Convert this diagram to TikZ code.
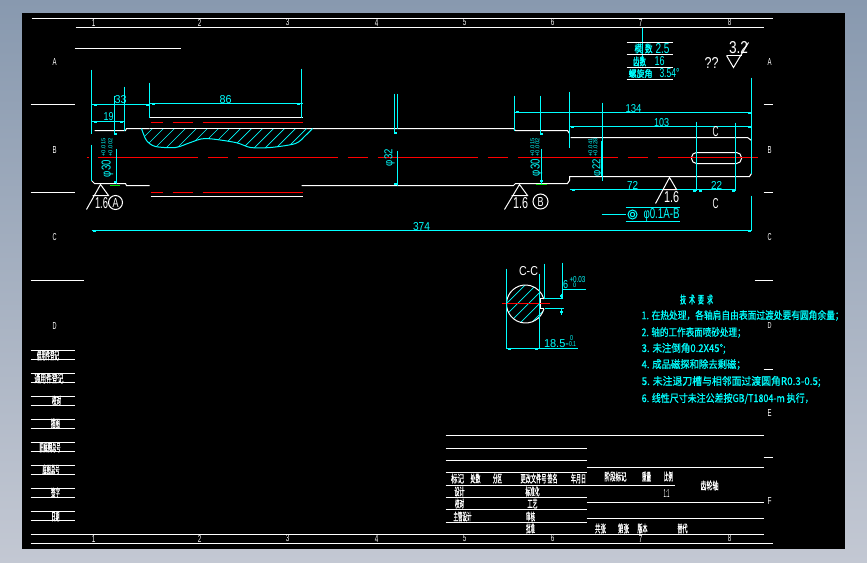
\documentclass[tikz,border=0pt]{standalone}
\usepackage{graphicx}
\usepackage{fontspec}
\setmainfont{Liberation Sans}
\newfontfamily\cjk[FakeBold=.7]{Noto Sans CJK SC}
\newfontfamily\cjkb[FakeBold=1.6]{Noto Sans CJK SC}
\newcommand{\fitbox}[3]{\resizebox{#1pt}{#2pt}{#3}}
\definecolor{cadcyan}{HTML}{00FFFF}
\definecolor{cadred}{HTML}{FF0000}
\definecolor{cadgreen}{HTML}{00E000}
\definecolor{deskup}{HTML}{8899AF}
\definecolor{deskdown}{HTML}{C3C8D3}
\tikzset{
  wline/.style={white,line width=1pt},
  dimline/.style={cadcyan,line width=1pt},
  redline/.style={cadred,line width=1pt},
  hatchline/.style={cadcyan,line width=.7pt},
  wtext/.style={white,inner sep=0pt},
  ctext/.style={cadcyan,inner sep=0pt}
}

\begin{document}
\begin{tikzpicture}[x=1pt,y=-1pt]
\useasboundingbox (0,0) rectangle (867,562);

\shade[top color=deskup,bottom color=deskdown] (0,0) rectangle (867,562);
\fill[black] (22,13) rectangle (845,549);

\begin{scope}[shift={(.5,.5)}]
% sheet frame
\draw[wline] (31,18) -- (772,18);
\draw[wline] (75,27) -- (763,27);
\draw[wline] (30,534) -- (763,534);
\draw[wline] (30,543) -- (772,543);
\draw[wline] (74,48) -- (180,48);
\draw[wline] (30,104) -- (74,104);
\draw[wline] (30,192) -- (74,192);
\draw[wline] (30,280) -- (83,280);
\foreach \y in {104,192,369,457}
  \draw[wline] (763,\y) -- (772,\y);
\draw[wline] (754,280) -- (772,280);
\foreach \y in {350,373,396,419,442,465,488,511}
  \draw[wline] (30,\y) -- (74,\y) (30,\y+9) -- (74,\y+9);

\foreach \x/\t in {93/1,199/2,287/3,376/4,464/5,552/6,640/7,729/8} {
  \node[wtext] at (\x,22) {\fitbox{3.5}{7}{\t}};
  \node[wtext] at (\x,538) {\fitbox{3.5}{7}{\t}};
}
\foreach \y/\t in {61/A,149/B,237/C} {
  \node[wtext] at (54,\y) {\fitbox{4}{7}{\t}};
  \node[wtext] at (769,\y) {\fitbox{4}{7}{\t}};
}
\node[wtext] at (54,325) {\fitbox{4}{7}{D}};
\node[wtext] at (769,325) {\fitbox{4}{6}{D}};
\node[wtext] at (769,412) {\fitbox{4}{7}{E}};
\node[wtext] at (769,500) {\fitbox{4}{7}{F}};

% shaft outline
\draw[wline] (94,130) -- (125,130) -- (126,128) -- (149,128);
\draw[wline] (302,128) -- (513,128) -- (515,130) -- (567,130) -- (569,133);
\draw[wline] (570,137) -- (747,137) -- (751,140);
\draw[wline] (91,180) -- (94,183) -- (125,183) -- (126,185) -- (149,185);
\draw[wline] (301,185) -- (513,185) -- (515,183) -- (567,183) -- (569,180) -- (569,176) -- (749,176) -- (751,173);
\draw[wline] (149,117) -- (302,117);
\draw[wline] (150,196) -- (302,196);
\draw[wline,rounded corners=5pt] (691,152) rectangle (741,163);

% centre lines
\draw[redline] (86,157) -- (88,157);
\foreach \a/\b in {97/197,207/227,237/337,347/367,377/477,487/507,517/617,627/647,657/757}
  \draw[redline] (\a,157) -- (\b,157);
\foreach \y in {122,192}
  \foreach \a/\b in {150/162,172/192,202/302}
    \draw[redline] (\a,\y) -- (\b,\y);

% broken-out hatch
\begin{scope}
\clip plot[smooth] coordinates {(141,128) (146,140) (155,146) (175,147) (190,142) (205,138) (235,142) (250,147) (270,147) (295,143) (305,135) (312,128)} -- cycle;
\foreach \k in {130,141,...,330}
  \draw[hatchline] (\k,150) -- (\k+24,126);
\end{scope}
\draw[dimline] plot[smooth] coordinates {(141,128) (146,140) (155,146) (175,147) (190,142) (205,138) (235,142) (250,147) (270,147) (295,143) (305,135) (312,128)};
\draw[wline] (149,128) -- (302,128);

% dimensions, left end
\draw[dimline] (91,69) -- (91,133);
\draw[dimline] (91,144) -- (91,180);
\draw[dimline] (124,86) -- (124,130);
\draw[dimline] (91,104) -- (149,104);
\draw[dimline] (114,95) -- (114,134);
\draw[dimline] (91,121) -- (124,121);
\draw[dimline] (116,148) -- (116,183);
\draw[dimline] (149,82) -- (149,117);
\draw[dimline] (301,68) -- (301,117);
\draw[dimline] (149,103) -- (302,103);
\draw[cadgreen,line width=1pt] (109,185) -- (119,185);
\node[ctext] at (120,99) {\fitbox{12}{8}{33}};
\node[ctext] at (108,116) {\fitbox{10}{8}{19}};
\node[ctext] at (225,99) {\fitbox{12}{8}{86}};
\node[ctext,rotate=90] at (107,168) {\fitbox{17}{9}{φ30}};
\node[ctext,rotate=90] at (103,147) {\fitbox{18}{4}{+0.015}};
\node[ctext,rotate=90] at (110,147) {\fitbox{18}{4}{+0.002}};

% dimensions, middle
\draw[dimline] (394,93) -- (394,133);
\draw[dimline] (397,93) -- (397,128);
\draw[dimline] (397,150) -- (397,185);
\node[ctext,rotate=90] at (389,157) {\fitbox{17}{8}{φ32}};
\draw[dimline] (514,95) -- (514,130);
\draw[dimline] (514,112) -- (751,112);
\draw[dimline] (540,95) -- (540,133);
\draw[dimline] (569,91) -- (569,147);
\draw[dimline] (569,126) -- (751,126);
\draw[dimline] (541,148) -- (541,183);
\draw[cadgreen,line width=1pt] (535,184) -- (546,184);
\node[ctext,rotate=90] at (536,167) {\fitbox{17}{9}{φ30}};
\node[ctext,rotate=90] at (532,147) {\fitbox{18}{4}{+0.015}};
\node[ctext,rotate=90] at (537,147) {\fitbox{18}{4}{+0.002}};
\node[ctext] at (633,108) {\fitbox{16}{8}{134}};
\node[ctext] at (661,122) {\fitbox{15}{8}{103}};

% dimensions, right end
\draw[dimline] (751,77) -- (751,173);
\draw[dimline] (602,102) -- (602,180);
\draw[dimline] (601,140) -- (601,175);
\node[ctext,rotate=90] at (597,167) {\fitbox{17}{8}{φ22}};
\node[ctext,rotate=90] at (590,147) {\fitbox{18}{4}{+0.041}};
\node[ctext,rotate=90] at (595,147) {\fitbox{18}{4}{+0.028}};
\draw[dimline] (569,189) -- (735,189);
\draw[dimline] (696,121) -- (696,190);
\draw[dimline] (735,122) -- (735,190);
\node[ctext] at (632,185) {\fitbox{11}{8}{72}};
\node[ctext] at (716,185) {\fitbox{11}{8}{22}};
\draw[dimline] (751,195) -- (751,230);
\draw[dimline] (91,230) -- (751,230);
\node[ctext] at (421,226) {\fitbox{17}{8}{374}};
\node[wtext] at (715,131) {\fitbox{6}{10}{C}};
\node[wtext] at (715,203) {\fitbox{6}{10}{C}};

% arrow stubs
\foreach \x/\y in {94.5/104,147/104,153/103,298/103,94.5/121,121/121,114.5/133,115/181,
    517/111.5,541/133,395/132,395/183,541/180,572/126,572.5/189,749/112,749/126,
    694/190,700/190,733/190,749/230,94/230,509/348,536/348,561/295,561/311}
  \fill[cadcyan] (\x-1.5,\y-1) rectangle (\x+1.5,\y+1);

% geometric tolerance
\draw[dimline] (625,207) -- (679,207);
\draw[dimline] (625,221) -- (679,221);
\draw[dimline] (601,214) -- (625,214);
\draw[dimline] (632,214) circle (4.5);
\draw[dimline] (632,214) circle (2.2);
\node[ctext] at (661,214) {\fitbox{36}{10}{φ0.1A-B}};

% roughness marks
\draw[wline] (86,209) -- (100,184) -- (108,195) -- (92,195);
\node[wtext] at (101,203) {\fitbox{13}{11}{1.6}};
\draw[wline] (115,202) circle (7);
\node[wtext] at (115,202) {\fitbox{6}{9}{A}};
\draw[wline] (504,209) -- (519,184) -- (527,195) -- (511,195);
\node[wtext] at (520,203) {\fitbox{15}{11}{1.6}};
\draw[wline] (540,201) circle (7.5);
\node[wtext] at (540,201) {\fitbox{6}{9}{B}};
\draw[wline] (655,203) -- (669,177) -- (676,189) -- (662,189);
\node[wtext] at (671,197) {\fitbox{15}{11}{1.6}};
\draw[wline] (726,55) -- (741,55);
\draw[wline] (726,55) -- (733,67) -- (748,42);
\node[wtext] at (738,47) {\fitbox{19}{12}{3.2}};
\node[wtext] at (711,62) {\fitbox{14}{11}{??}};

% gear data table
\draw[dimline] (642,27) -- (642,62);
\foreach \y in {42,54,67,79}
  \draw[wline] (626,\y) -- (672,\y);
\node[ctext] at (643,48) {\fitbox{18}{9}{\cjkb 模\hspace{.4em}数}};
\node[ctext] at (662,48) {\fitbox{14}{10}{2.5}};
\node[ctext] at (639,61) {\fitbox{13}{9}{\cjkb 齿数}};
\node[ctext] at (659,61) {\fitbox{10}{9}{16}};
\node[ctext] at (640,73) {\fitbox{24}{8}{\cjkb 螺旋角}};
\node[ctext] at (669,73) {\fitbox{20}{9}{3.54°}};

% section C-C
\node[wtext] at (528,271) {\fitbox{19}{9}{C-C}};
\begin{scope}
\clip (525,303.5) circle (19);
\foreach \k in {468,479,...,540}
  \draw[hatchline] (\k,330) -- (\k+52,278);
\fill[black] (540,298) rectangle (546,308);
\end{scope}
\draw[wline] (525,303.5) ++(15:19) arc (15:345:19);
\draw[wline] (543.5,298) -- (540,298) -- (540,308) -- (543.5,308);
\draw[redline] (501,303) -- (549,303);
\draw[dimline] (506,268) -- (506,348);
\draw[dimline] (539,273) -- (539,348);
\draw[dimline] (544,263) -- (544,298);
\draw[dimline] (562,262) -- (562,298);
\draw[dimline] (544,298) -- (562,298);
\draw[dimline] (544,308) -- (563,308);
\draw[dimline] (561,293) -- (561,298);
\draw[dimline] (561,308) -- (561,314);
\draw[dimline] (562,289) -- (585,289);
\draw[dimline] (506,348) -- (577,348);
\node[ctext] at (565,284) {\fitbox{5}{8}{6}};
\node[ctext] at (577,279) {\fitbox{16}{6}{+0.03}};
\node[ctext] at (574,285) {\fitbox{3}{4.5}{0}};
\node[ctext] at (556,343) {\fitbox{25}{8}{18.5-}};
\node[ctext] at (571,338) {\fitbox{3}{5}{0}};
\node[ctext] at (572,344) {\fitbox{7}{5}{0.1}};

% technical requirements
\node[ctext] at (696,299) {\fitbox{33}{9}{\cjkb 技\hspace{.5em}术\hspace{.5em}要\hspace{.5em}求}};
\foreach \y/\w/\t in {
    315/202/{1. 在热处理，各轴肩自由表面过渡处要有圆角余量；},
    332/104/{2. 轴的工作表面喷砂处理；},
    348/84/{3. 未注倒角0.2X45°;},
    364/104/{4. 成品磁探和除去剩磁；},
    381/179/{5. 未注退刀槽与相邻面过渡圆角R0.3-0.5;},
    398/172/{6. 线性尺寸未注公差按GB/T1804-m 执行，}}
  \node[ctext,anchor=west] at (641,\y) {\fitbox{\w}{9}{\cjk \t}};

% title block
\draw[wline] (445,435) -- (763,435);
\foreach \y in {448,460,472,497,509,522}
  \draw[wline] (445,\y) -- (586,\y);
\draw[wline] (445,485) -- (674,485);
\foreach \y in {467,502,518}
  \draw[wline] (586,\y) -- (763,\y);
\foreach \x/\y/\w/\t in {
    457/478/13/标记,475/478/10/处数,497/478/9/分区,533/478/26/更改文件号,552/478/10/签名,578/478/15/年月日,
    459/491/10/设计,532/491/14/标准化,459/503/9/校对,532/503/10/工艺,462/516/18/主管设计,530/516/9/审核,530/528/9/批准,
    615/476/22/阶段标记,646/476/9/重量,668/476/9/比例,709/485/18/齿轮轴,
    600/528/11/共张,623/528/11/第张,642/528/10/版本,682/528/10/替代}
  \node[wtext] at (\x,\y) {\fitbox{\w}{9}{\cjkb \t}};
\node[wtext] at (666,493) {\fitbox{6}{8}{1:1}};

% revision column
\foreach \x/\y/\w/\t in {
    47.5/355/22/借用件登记,48.5/378/29/通用件登记,56/400/9/校对,55/423/9/描图,
    49.5/447/21/旧底图总号,50.5/469/17/底图总号,55/492/9/签字,55/516/8/日期}
  \node[wtext] at (\x,\y) {\fitbox{\w}{9}{\cjkb \t}};
\end{scope}

\end{tikzpicture}
\end{document}
